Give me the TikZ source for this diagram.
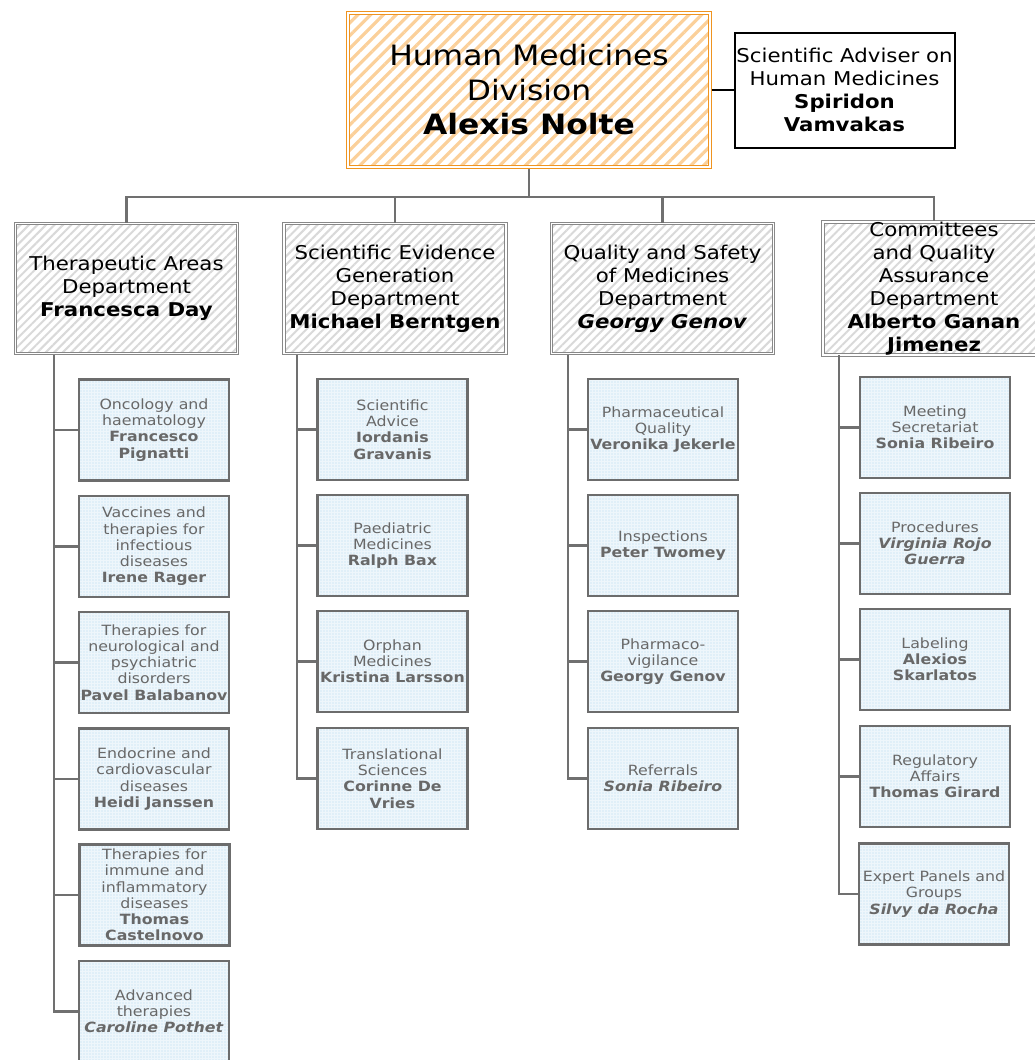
\documentclass[tikz,border=0pt]{standalone}
\usepackage{fontspec}
\setmainfont[FakeStretch=1.12]{DejaVu Sans}
\usetikzlibrary{patterns.meta}
\definecolor{topor}{HTML}{EF9420}
\definecolor{orstripe}{HTML}{FBD09A}
\definecolor{deptline}{HTML}{888888}
\definecolor{deptstripe}{HTML}{D9D9D9}
\definecolor{childline}{HTML}{6C6C6C}
\definecolor{childdot}{HTML}{B3D8EF}
\definecolor{childfill}{HTML}{EEF6FB}
\definecolor{childtext}{HTML}{686868}
\definecolor{conn}{HTML}{707070}
\tikzset{
 topbox/.style={draw=topor, double=white, double distance=1.5pt, line width=1.1pt,
   preaction={fill=white}, pattern={Lines[angle=45,distance=9pt,line width=3.2pt]}, pattern color=orstripe,
   minimum width=362pt, minimum height=154pt, inner sep=0pt, align=center,
   font=\fontsize{28}{34.5}\selectfont},
 advbox/.style={draw=black, line width=2pt, fill=white, minimum width=220pt, minimum height=115pt,
   inner sep=0pt, align=center, font=\fontsize{19}{22.8}\selectfont},
 deptbox/.style={draw=deptline, double=white, double distance=1.5pt, line width=1.1pt,
   preaction={fill=white}, pattern={Lines[angle=45,distance=6pt,line width=2pt]}, pattern color=deptstripe,
   minimum width=222pt, minimum height=130pt, inner sep=0pt, align=center,
   font=\fontsize{19}{23}\selectfont},
 childbox/.style={draw=childline, line width=2.6pt, preaction={fill=childfill},
   pattern={Dots[radius=0.6pt,distance=3pt]}, pattern color=childdot,
   minimum width=150pt, minimum height=101pt, inner sep=0pt, align=center,
   text=childtext, font=\fontsize{14.1}{16.2}\selectfont},
 link/.style={draw=conn, line width=2.2pt},
}
\begin{document}
\begin{tikzpicture}[x=1pt,y=-1pt]
\useasboundingbox (0,0) rectangle (1034,1060);
\fill[white] (0,0) rectangle (1034,1060);

% top level
\node[topbox] (top) at (529,90) {Human Medicines\\Division\\\textbf{Alexis Nolte}};
\node[advbox] (adv) at (844.5,90) {Scientific Adviser on\\Human Medicines\\\textbf{Spiridon}\\\textbf{Vamvakas}};

% departments
\node[deptbox] (d1) at (126.5,288.5) {Therapeutic Areas\\Department\\\textbf{Francesca Day}};
\node[deptbox] (d2) at (395,288.5) {Scientific Evidence\\Generation\\Department\\\textbf{Michael Berntgen}};
\node[deptbox] (d3) at (662.5,288.5) {Quality and Safety\\of Medicines\\Department\\\textbf{\textit{Georgy Genov}}};
\node[deptbox] (d4) at (934,288.5) {Committees\\and Quality\\Assurance\\Department\\\textbf{Alberto Ganan}\\\textbf{Jimenez}};

% column 1
\node[childbox] (a1) at (154,430) {Oncology and\\haematology\\\textbf{Francesco}\\\textbf{Pignatti}};
\node[childbox] (a2) at (154,546.5) {Vaccines and\\therapies for\\infectious\\diseases\\\textbf{Irene Rager}};
\node[childbox] (a3) at (154,662.5) {Therapies for\\neurological and\\psychiatric\\disorders\\\textbf{Pavel Balabanov}};
\node[childbox] (a4) at (154,779) {Endocrine and\\cardiovascular\\diseases\\\textbf{Heidi Janssen}};
\node[childbox] (a5) at (154.5,895) {Therapies for\\immune and\\inflammatory\\diseases\\\textbf{Thomas}\\\textbf{Castelnovo}};
\node[childbox] (a6) at (154,1011.5) {Advanced\\therapies\\\textbf{\textit{Caroline Pothet}}};

% column 2
\node[childbox] (b1) at (392.5,429.5) {Scientific\\Advice\\\textbf{Iordanis}\\\textbf{Gravanis}};
\node[childbox] (b2) at (392.5,545.5) {Paediatric\\Medicines\\\textbf{Ralph Bax}};
\node[childbox] (b3) at (392.5,661.5) {Orphan\\Medicines\\\textbf{Kristina Larsson}};
\node[childbox] (b4) at (392.5,778.5) {Translational\\Sciences\\\textbf{Corinne De}\\\textbf{Vries}};

% column 3
\node[childbox] (c1) at (663,429.5) {Pharmaceutical\\Quality\\\textbf{Veronika Jekerle}};
\node[childbox] (c2) at (663,545.5) {Inspections\\\textbf{Peter Twomey}};
\node[childbox] (c3) at (663,661.5) {Pharmaco-\\vigilance\\\textbf{Georgy Genov}};
\node[childbox] (c4) at (663,778.5) {Referrals\\\textbf{\textit{Sonia Ribeiro}}};

% column 4
\node[childbox] (e1) at (935,427.5) {Meeting\\Secretariat\\\textbf{Sonia Ribeiro}};
\node[childbox] (e2) at (935,543.5) {Procedures\\\textbf{\textit{Virginia Rojo}}\\\textbf{\textit{Guerra}}};
\node[childbox] (e3) at (935,659.5) {Labeling\\\textbf{Alexios}\\\textbf{Skarlatos}};
\node[childbox] (e4) at (935,776.5) {Regulatory\\Affairs\\\textbf{Thomas Girard}};
\node[childbox] (e5) at (934,894) {Expert Panels and\\Groups\\\textbf{\textit{Silvy da Rocha}}};

% connectors
\draw[line width=2pt] (top.east) -- (adv.west);
\coordinate (bus) at (529,197);
\draw[link] (top.south) -- (bus);
\draw[link] (d1.north) |- (bus) -| (d4.north);
\draw[link] (d2.north) -- (d2.north |- bus);
\draw[link] (d3.north) -- (d3.north |- bus);

\coordinate (s1) at (54,355);
\coordinate (s2) at (297,355);
\coordinate (s3) at (568,355);
\coordinate (s4) at (839,355);
\draw[link] (s1) |- (a6.west);
\foreach \n in {a1,a2,a3,a4,a5} \draw[link] (s1 |- \n.west) -- (\n.west);
\draw[link] (s2) |- (b4.west);
\foreach \n in {b1,b2,b3} \draw[link] (s2 |- \n.west) -- (\n.west);
\draw[link] (s3) |- (c4.west);
\foreach \n in {c1,c2,c3} \draw[link] (s3 |- \n.west) -- (\n.west);
\draw[link] (s4) |- (e5.west);
\foreach \n in {e1,e2,e3,e4} \draw[link] (s4 |- \n.west) -- (\n.west);
\end{tikzpicture}
\end{document}
